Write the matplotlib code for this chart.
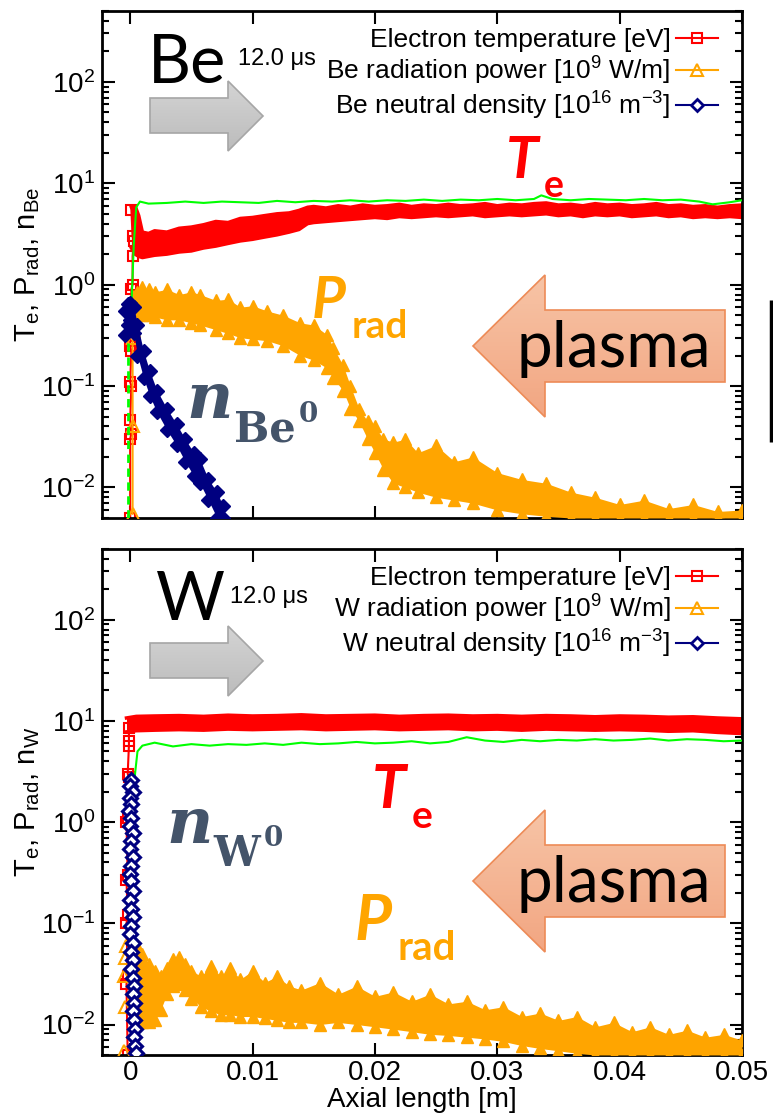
import matplotlib.pyplot as plt
import matplotlib.colors as mcolors
from matplotlib.lines import Line2D
from matplotlib.patches import Polygon
import numpy as np

plt.rcParams['font.family'] = ['Liberation Sans', 'DejaVu Sans']
plt.rcParams['mathtext.fontset'] = 'custom'
plt.rcParams['mathtext.rm'] = 'Liberation Sans'
plt.rcParams['mathtext.it'] = 'Liberation Sans:italic'
plt.rcParams['mathtext.bf'] = 'Liberation Sans:bold'
plt.rcParams['mathtext.default'] = 'regular'

W_PX, H_PX = 773, 1114
RED, ORANGE, NAVY, GREEN = '#ff0000', '#ffa500', '#000080', '#00ff00'

# ---------------- Be case ----------------
be_te_x = [0.0001, 0.0004, 0.0007, 0.0010, 0.0015, 0.002, 0.003, 0.004, 0.005, 0.006, 0.007, 0.008, 0.009,
           0.010, 0.011, 0.012, 0.013, 0.0138, 0.0145, 0.015, 0.016, 0.017, 0.018, 0.019, 0.020, 0.021, 0.022,
           0.023, 0.024, 0.025, 0.026, 0.027, 0.028, 0.029, 0.030, 0.031, 0.032, 0.033, 0.034, 0.035, 0.036,
           0.037, 0.038, 0.039, 0.040, 0.041, 0.042, 0.043, 0.044, 0.045, 0.046, 0.047, 0.048, 0.049, 0.050]
be_te_hi = [5.8, 6.0, 4.8, 3.3, 3.2, 3.4, 3.3, 3.6, 3.7, 3.9, 4.2, 4.1, 4.5, 4.6, 4.8, 5.0, 5.1, 5.4, 5.8, 5.9,
            5.7, 6.0, 5.8, 6.1, 5.9, 6.0, 6.2, 5.9, 6.1, 6.0, 6.2, 6.0, 6.1, 6.3, 6.0, 6.2, 6.1, 6.3, 6.4, 6.1,
            6.2, 6.0, 6.3, 6.1, 6.2, 6.0, 6.1, 6.3, 6.0, 6.1, 5.9, 6.0, 5.8, 6.0, 6.1]
be_te_lo = [2.3, 2.0, 1.9, 1.85, 1.9, 1.95, 2.0, 2.1, 2.15, 2.3, 2.4, 2.55, 2.7, 2.8, 2.95, 3.1, 3.3, 3.5, 4.0,
            4.1, 4.2, 4.3, 4.4, 4.5, 4.6, 4.5, 4.7, 4.6, 4.7, 4.8, 4.7, 4.8, 4.9, 4.7, 4.8, 4.9, 4.8, 4.9, 5.0,
            4.8, 4.9, 4.7, 4.9, 4.8, 4.9, 4.7, 4.8, 4.9, 4.7, 4.8, 4.6, 4.7, 4.6, 4.7, 4.6]
be_te_rise_x = [0.0000, 0.0000, 0.0001, 0.0000, 0.0001, 0.0000, 0.0001, 0.0000, 0.0001, 0.0002, 0.0002,
                0.0003, 0.0002, 0.0001]
be_te_rise_y = [0.005, 0.03, 0.034, 0.046, 0.1, 0.11, 0.22, 0.25, 0.9, 1.0, 1.9, 2.7, 3.0, 5.5]

be_tn_x = [-0.0002, 0.0001, 0.0003, 0.0005, 0.0008, 0.0015, 0.003, 0.0045, 0.006, 0.0075, 0.009, 0.0105,
           0.012, 0.0135, 0.015, 0.0165, 0.018, 0.0195, 0.021, 0.0225, 0.024, 0.0255, 0.027, 0.0285, 0.030,
           0.0315, 0.033, 0.0336, 0.0345, 0.036, 0.0375, 0.039, 0.0405, 0.042, 0.0435, 0.045, 0.0465, 0.0476,
           0.049, 0.050]
be_tn_y = [0.5, 0.6, 2.5, 5.8, 6.6, 6.3, 6.4, 6.6, 6.4, 6.6, 6.5, 6.4, 6.7, 6.5, 6.7, 6.6, 6.8, 6.6, 6.8,
           6.7, 6.9, 6.7, 6.9, 6.8, 7.0, 6.8, 7.0, 7.6, 7.0, 6.8, 7.0, 6.9, 6.8, 7.0, 6.8, 6.9, 6.6, 6.2,
           6.5, 6.8]
be_tn_dash_x = [-0.0002, -0.0002]
be_tn_dash_y = [0.005, 0.5]

be_pr_x = [0.0003, 0.0006, 0.0010, 0.0015, 0.0020, 0.0030, 0.0040, 0.0050, 0.0057, 0.0070, 0.0080, 0.0090,
           0.0100, 0.0112, 0.0125, 0.0139, 0.0150, 0.0161, 0.0166, 0.0174, 0.0180, 0.0187, 0.0194, 0.0200,
           0.0207, 0.0215, 0.0225, 0.0235, 0.0250, 0.0265, 0.0280, 0.0300, 0.0320, 0.0340, 0.0360, 0.0380,
           0.0400, 0.0420, 0.0440, 0.0460, 0.0480, 0.0500]
be_pr_hi = [0.75, 0.85, 0.95, 0.9, 0.85, 0.9, 0.8, 0.85, 0.8, 0.7, 0.72, 0.6, 0.62, 0.55, 0.5, 0.42, 0.4,
            0.32, 0.24, 0.16, 0.1, 0.06, 0.045, 0.04, 0.03, 0.028, 0.03, 0.022, 0.026, 0.018, 0.02, 0.014,
            0.012, 0.011, 0.009, 0.008, 0.0068, 0.0075, 0.0062, 0.0068, 0.0058, 0.006]
be_pr_lo = [0.35, 0.45, 0.5, 0.5, 0.48, 0.45, 0.45, 0.42, 0.4, 0.36, 0.33, 0.3, 0.29, 0.28, 0.25, 0.2, 0.18,
            0.15, 0.12, 0.09, 0.06, 0.045, 0.03, 0.022, 0.015, 0.011, 0.01, 0.009, 0.008, 0.0075, 0.007,
            0.006, 0.0055, 0.0052, 0.005, 0.005, 0.005, 0.005, 0.005, 0.005, 0.005, 0.005]
be_pr_rise_x = [0.0002, 0.0002, 0.0002, 0.0003]
be_pr_rise_y = [0.0055, 0.04, 0.3, 0.75]

be_n_x = [-0.0004, -0.0002, 0.0000, 0.0003, 0.0006, 0.0011, 0.0016, 0.0022, 0.0030, 0.0038, 0.0045, 0.0052,
          0.0057, 0.0064, 0.0071, 0.0076]
be_n_hi = [0.55, 0.65, 0.66, 0.6, 0.4, 0.22, 0.14, 0.09, 0.06, 0.042, 0.03, 0.022, 0.019, 0.012, 0.009, 0.0065]
be_n_lo = [0.32, 0.4, 0.45, 0.33, 0.2, 0.12, 0.08, 0.055, 0.037, 0.026, 0.018, 0.013, 0.011, 0.0075, 0.005,
           0.005]

# ---------------- W case ----------------
w_te_x = [-0.0003, 0.0005, 0.002, 0.004, 0.006, 0.008, 0.010, 0.012, 0.014, 0.016, 0.018, 0.020, 0.022, 0.024,
          0.026, 0.028, 0.030, 0.032, 0.034, 0.036, 0.038, 0.040, 0.042, 0.044, 0.046, 0.048, 0.050]
w_te_hi = [10.7, 11.1, 11.2, 11.3, 11.1, 11.4, 11.2, 11.3, 11.5, 11.2, 11.3, 11.4, 11.1, 11.3, 11.4, 11.2,
           11.3, 11.1, 11.3, 11.2, 11.0, 11.2, 11.1, 10.9, 11.0, 10.7, 10.5]
w_te_lo = [7.8, 8.0, 8.1, 8.2, 8.1, 8.3, 8.2, 8.3, 8.4, 8.2, 8.3, 8.4, 8.2, 8.3, 8.4, 8.2, 8.3, 8.1, 8.3, 8.2,
           8.1, 8.2, 8.1, 7.9, 8.0, 7.7, 7.5]
w_te_rise_x = [-0.0002, -0.0003, -0.0002, -0.0003, -0.0002, -0.0003, -0.0002, -0.0003, -0.0002, -0.0001,
               -0.0002, -0.0001, -0.0001, -0.0001]
w_te_rise_y = [0.005, 0.025, 0.03, 0.1, 0.12, 0.27, 0.3, 1.0, 1.1, 2.8, 3.0, 5.7, 6.3, 8.5]

w_tn_x = [0.0002, 0.0003, 0.0004, 0.0006, 0.001, 0.002, 0.0035, 0.005, 0.0065, 0.008, 0.0095, 0.011, 0.0125,
          0.014, 0.0155, 0.017, 0.0185, 0.020, 0.0215, 0.023, 0.0245, 0.026, 0.0275, 0.029, 0.0305, 0.032,
          0.0335, 0.035, 0.0365, 0.038, 0.0395, 0.041, 0.0425, 0.044, 0.0455, 0.047, 0.0485, 0.050]
w_tn_y = [0.005, 1.5, 3.0, 5.0, 5.7, 6.1, 5.6, 5.9, 5.7, 5.9, 5.8, 6.0, 5.8, 6.1, 5.9, 6.0, 6.2, 6.0, 6.1,
          6.3, 6.0, 6.2, 6.9, 6.4, 6.2, 6.5, 6.3, 6.5, 6.4, 6.6, 6.4, 6.5, 6.7, 6.4, 6.6, 6.5, 6.3, 6.4]

w_pr_x = [0.0002, 0.0006, 0.0010, 0.0015, 0.0020, 0.0025, 0.0030, 0.0035, 0.0040, 0.0045, 0.0050, 0.0058,
          0.0066, 0.0074, 0.0082, 0.0090, 0.0100, 0.0110, 0.0120, 0.0130, 0.0140, 0.0155, 0.0170, 0.0185,
          0.0200, 0.0215, 0.0230, 0.0245, 0.0260, 0.0275, 0.0290, 0.0305, 0.0320, 0.0335, 0.0350, 0.0365,
          0.0380, 0.0395, 0.0410, 0.0425, 0.0440, 0.0455, 0.0470, 0.0485, 0.0500]
w_pr_hi = [0.065, 0.06, 0.05, 0.04, 0.034, 0.03, 0.036, 0.044, 0.046, 0.04, 0.034, 0.03, 0.038, 0.03, 0.036,
           0.028, 0.034, 0.026, 0.03, 0.024, 0.022, 0.026, 0.02, 0.024, 0.019, 0.021, 0.017, 0.02, 0.016,
           0.017, 0.014, 0.015, 0.012, 0.013, 0.011, 0.012, 0.0095, 0.0105, 0.0085, 0.0095, 0.008, 0.0088,
           0.0075, 0.008, 0.007]
w_pr_lo = [0.02, 0.013, 0.0105, 0.0105, 0.011, 0.014, 0.02, 0.024, 0.025, 0.022, 0.018, 0.015, 0.0135,
           0.0125, 0.0125, 0.012, 0.012, 0.0115, 0.011, 0.0105, 0.0105, 0.010, 0.0105, 0.0100, 0.0095, 0.009,
           0.0085, 0.0080, 0.0078, 0.0075, 0.0072, 0.0068, 0.0062, 0.0058, 0.0055, 0.0052, 0.005, 0.005,
           0.005, 0.005, 0.005, 0.005, 0.005, 0.005, 0.005]
w_pr_rise_x = [-0.0005, -0.0004, -0.0005, -0.0004, -0.0003]
w_pr_rise_y = [0.0055, 0.015, 0.03, 0.045, 0.06]

w_n_y = [2.6, 2.3, 2.0, 1.75, 1.5, 1.3, 1.1, 0.92, 0.78, 0.65, 0.54, 0.45, 0.37, 0.31, 0.26, 0.21, 0.17,
         0.14, 0.115, 0.095, 0.078, 0.064, 0.052, 0.043, 0.035, 0.029, 0.024, 0.02, 0.0165, 0.0135, 0.011,
         0.009, 0.0075, 0.0062, 0.0052]
w_n_x = [0.0001, 0.0000, 0.0002, 0.0000, 0.0001, -0.0001, 0.0001, 0.0000, 0.0002, 0.0001, 0.0000, 0.0002,
         0.0001, 0.0000, 0.0001, 0.0002, 0.0000, 0.0001, 0.0002, 0.0001, 0.0000, 0.0002, 0.0001, 0.0002,
         0.0001, 0.0002, 0.0003, 0.0002, 0.0003, 0.0002, 0.0003, 0.0004, 0.0003, 0.0004, 0.0005]

xtick_vals = [0, 0.01, 0.02, 0.03, 0.04, 0.05]
xtick_labels = ['0', '0.01', '0.02', '0.03', '0.04', '0.05']
labels_be = ['Electron temperature [eV]', 'Be radiation power [10$^{9}$ W/m]',
             'Be neutral density [10$^{16}$ m$^{-3}$]']
labels_w = ['Electron temperature [eV]', 'W radiation power [10$^{9}$ W/m]',
            'W neutral density [10$^{16}$ m$^{-3}$]']


def fig_rect(x0, y0, x1, y1):
    # pixel box (top-left origin) -> figure fraction rect
    return [x0 / W_PX, 1 - y1 / H_PX, (x1 - x0) / W_PX, (y1 - y0) / H_PX]


def band(ax, x, lo, hi, color, marker, ms, z):
    ax.fill_between(x, lo, hi, color=color, lw=0, zorder=z)
    if marker:
        ax.plot(x, hi, ls='none', marker=marker, ms=ms, color=color, zorder=z)
        ax.plot(x, lo, ls='none', marker=marker, ms=ms, color=color, zorder=z)
    else:
        ax.plot(x, hi, color=color, lw=2.5, zorder=z)
        ax.plot(x, lo, color=color, lw=2.5, zorder=z)


def style_axes(ax):
    ax.set_yscale('log')
    ax.set_ylim(0.005, 500)
    ax.set_xlim(-0.0023, 0.05)
    ax.set_xticks(xtick_vals)
    ax.set_xticklabels(xtick_labels)
    ax.tick_params(which='both', direction='in', top=True, right=True, width=1.5, labelsize=20)
    ax.tick_params(which='major', length=9)
    ax.tick_params(which='minor', length=5)
    ax.tick_params(axis='y', pad=5)
    for s in ax.spines.values():
        s.set_linewidth(2)


def legend(ax, labels):
    hs = [Line2D([], [], color=RED, lw=1.5, marker='s', ms=7, mfc='none', mew=1.5),
          Line2D([], [], color=ORANGE, lw=1.5, marker='^', ms=8, mfc='none', mew=1.5),
          Line2D([], [], color=NAVY, lw=1.5, marker='D', ms=6, mfc='white', mew=2)]
    ax.legend(hs, labels, loc='upper right', bbox_to_anchor=(1 - 24 / 640, 1 - 17 / 507), frameon=False,
              markerfirst=False, fontsize=19, handlelength=1.6, handletextpad=0.2, labelspacing=0.1,
              borderpad=0, borderaxespad=0)


fig = plt.figure(figsize=(W_PX / 100, H_PX / 100), dpi=100)
ax1 = fig.add_axes(fig_rect(102, 11, 742, 518))
ax2 = fig.add_axes(fig_rect(102, 549, 742, 1055))

# top panel: Be
band(ax1, be_te_x, be_te_lo, be_te_hi, RED, None, 0, 2)
ax1.plot(be_te_rise_x, be_te_rise_y, color=RED, lw=1.5, marker='s', ms=7, mfc='none', mew=1.5, zorder=2)
band(ax1, be_pr_x, be_pr_lo, be_pr_hi, ORANGE, '^', 8, 3)
ax1.plot(be_pr_rise_x, be_pr_rise_y, color=ORANGE, lw=1.5, marker='^', ms=8, mfc='none', mew=1.5, zorder=3)
ax1.plot(be_tn_x, be_tn_y, color=GREEN, lw=1.5, zorder=4)
ax1.plot(be_tn_dash_x, be_tn_dash_y, color=GREEN, lw=2, ls=(0, (3, 2)), zorder=4)
band(ax1, be_n_x, be_n_lo, be_n_hi, NAVY, 'D', 7, 5)
style_axes(ax1)
ax1.tick_params(labelbottom=False)
ax1.set_ylabel('T$_{e}$, P$_{rad}$, n$_{Be}$', fontsize=21)
ax1.yaxis.set_label_coords(-60 / 640, 0.5)
legend(ax1, labels_be)

# bottom panel: W
band(ax2, w_te_x, w_te_lo, w_te_hi, RED, None, 0, 2)
ax2.plot(w_te_rise_x, w_te_rise_y, color=RED, lw=1.5, marker='s', ms=7, mfc='none', mew=1.5, zorder=2)
band(ax2, w_pr_x, w_pr_lo, w_pr_hi, ORANGE, '^', 8, 3)
ax2.plot(w_pr_rise_x, w_pr_rise_y, color=ORANGE, lw=1.2, marker='^', ms=8, mfc='none', mew=1.5, ls='none',
         zorder=3)
ax2.plot(w_tn_x, w_tn_y, color=GREEN, lw=1.5, zorder=4)
ax2.plot(w_n_x, w_n_y, color=NAVY, lw=1.5, marker='D', ms=7, mfc='white', mew=2.2, zorder=5)
style_axes(ax2)
ax2.set_ylabel('T$_{e}$, P$_{rad}$, n$_{W}$', fontsize=21)
ax2.yaxis.set_label_coords(-60 / 640, 0.5)
ax2.set_xlabel('Axial length [m]', fontsize=20, labelpad=1)
legend(ax2, labels_w)

# overlay in pixel coordinates for the slide annotations
ov = fig.add_axes([0, 0, 1, 1], zorder=20)
ov.axis('off')


def grad_arrow(pts, c_top, c_bot, edge):
    poly = Polygon(pts, closed=True, fc='none', ec=edge, lw=1.2, zorder=2)
    ov.add_patch(poly)
    xs = [p[0] for p in pts]
    ys = [p[1] for p in pts]
    cmap = mcolors.LinearSegmentedColormap.from_list('g', [c_top, c_bot])
    im = ov.imshow(np.linspace(0, 1, 64).reshape(-1, 1), cmap=cmap, aspect='auto', zorder=1,
                   extent=[min(xs), max(xs), max(ys), min(ys)])
    im.set_clip_path(poly)


for dy in (0, 545):
    grad_arrow([(150, 98 + dy), (228, 98 + dy), (228, 81 + dy), (263, 116 + dy), (228, 151 + dy),
                (228, 133 + dy), (150, 133 + dy)], '#d4d4d4', '#bcbcbc', '#a6a6a6')
for dy in (0, 535):
    grad_arrow([(473, 346 + dy), (545, 275 + dy), (545, 310 + dy), (725, 310 + dy), (725, 382 + dy),
                (545, 382 + dy), (545, 417 + dy)], '#f7c4a6', '#f2a682', '#ed8b57')
    ov.text(614, 367 + dy, 'plasma', fontsize=46, family=['Lato', 'DejaVu Sans'], ha='center',
            va='baseline', zorder=5)

big = dict(family=['Lato', 'DejaVu Sans'], fontsize=48, va='baseline', zorder=5)
ov.text(148, 83, 'Be', **big)
ov.text(156, 620, 'W', **big)
ov.text(238, 65, '12.0 \u03bcs', fontsize=17, va='baseline')
ov.text(230, 603, '12.0 \u03bcs', fontsize=17, va='baseline')

bi = dict(family=['Lato', 'DejaVu Sans'], fontweight='bold', va='baseline', zorder=5)
ov.text(506, 178, 'T', color=RED, fontsize=42, fontstyle='italic', **bi)
ov.text(544, 197, 'e', color=RED, fontsize=27, **bi)
ov.text(312, 318, 'P', color=ORANGE, fontsize=42, fontstyle='italic', **bi)
ov.text(352, 338, 'rad', color=ORANGE, fontsize=28, **bi)
ov.text(372, 808, 'T', color=RED, fontsize=44, fontstyle='italic', **bi)
ov.text(412, 828, 'e', color=RED, fontsize=28, **bi)
ov.text(355, 940, 'P', color=ORANGE, fontsize=46, fontstyle='italic', **bi)
ov.text(398, 960, 'rad', color=ORANGE, fontsize=29, **bi)

SLATE = '#44546a'
sf = dict(family=['DejaVu Serif'], fontweight='bold', color=SLATE, va='baseline', zorder=5)
ov.text(186, 418, 'n', fontsize=46, fontstyle='italic', **sf)
ov.text(234, 442, 'Be', fontsize=30, **sf)
ov.text(299, 422, '0', fontsize=20, **sf)
ov.text(166, 843, 'n', fontsize=46, fontstyle='italic', **sf)
ov.text(213, 866, 'W', fontsize=30, **sf)
ov.text(264, 846, '0', fontsize=20, **sf)

ov.plot([771, 771], [300, 442], color='black', lw=2.5, solid_capstyle='butt')
ov.set_xlim(0, W_PX)
ov.set_ylim(H_PX, 0)

fig.savefig('out.png', dpi=100)
